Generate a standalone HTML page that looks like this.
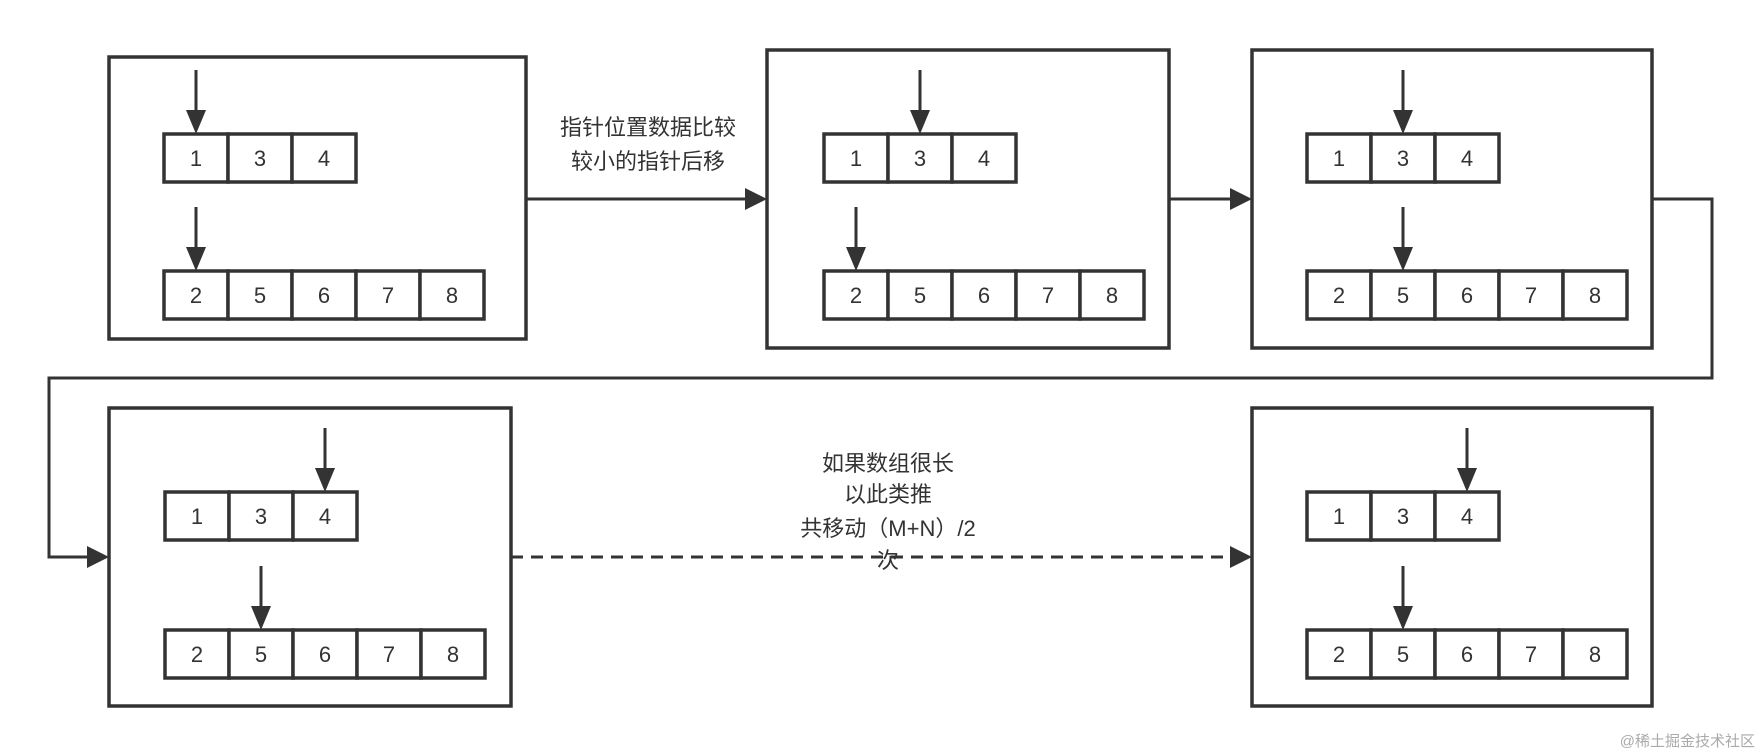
<!DOCTYPE html>
<html><head><meta charset="utf-8"><style>html,body{margin:0;padding:0;background:#fff;}svg{display:block}</style></head>
<body>
<svg width="1762" height="756" xmlns="http://www.w3.org/2000/svg" font-family="Liberation Sans, Noto Sans CJK SC, sans-serif">
<defs>
<marker id="a" markerWidth="8" markerHeight="8" refX="7" refY="4" orient="auto" markerUnits="strokeWidth">
<path d="M0,0 L8,4 L0,8 Z" fill="#333"/></marker>
<marker id="b" markerWidth="10" markerHeight="8" refX="9" refY="4" orient="auto" markerUnits="userSpaceOnUse">
</marker>
</defs>
<g fill="none" stroke="#333" stroke-width="3.5">
<rect x="109" y="57" width="417" height="282"/>
<rect x="767" y="50" width="402" height="298"/>
<rect x="1252" y="50" width="400" height="298"/>
<rect x="109" y="408" width="402" height="298"/>
<rect x="1252" y="408" width="400" height="298"/>
</g>
<g id="arrs"></g>
<g stroke="#333" stroke-width="3" fill="none">
<line x1="526" y1="199" x2="750" y2="199"/>
<line x1="1169" y1="199" x2="1235" y2="199"/>
<polyline points="1652,199 1712,199 1712,378 49,378 49,557 92,557"/>
<line x1="511" y1="557" x2="1235" y2="557" stroke-dasharray="12,8"/>
</g>
<g fill="#333">
<path d="M767,199 L745,188 L745,210 Z"/>
<path d="M1252,199 L1230,188 L1230,210 Z"/>
<path d="M109,557 L87,546 L87,568 Z"/>
<path d="M1252,557 L1230,546 L1230,568 Z"/>
</g>
<g font-size="22" fill="#333" text-anchor="middle">
<text x="648" y="135">指针位置数据比较</text>
<text x="648" y="169">较小的指针后移</text>
<text x="888" y="471">如果数组很长</text>
<text x="888" y="502">以此类推</text>
<text x="888" y="536">共移动（M+N）/2</text>
<text x="888" y="568">次</text>
</g>
<text x="1755" y="746" font-size="15" fill="#aaa" text-anchor="end">@稀土掘金技术社区</text>
<script>
</script>
</svg>
<script>
(function(){
var ns="http://www.w3.org/2000/svg",g=document.getElementById("arrs");
function el(t,a,txt){var e=document.createElementNS(ns,t);for(var k in a)e.setAttribute(k,a[k]);if(txt)e.textContent=txt;g.appendChild(e);}
function arr(x,y,vals){var w=64,h=48;for(var i=0;i<vals.length;i++){el("rect",{x:x+i*w,y:y,width:w,height:h,fill:"#fff",stroke:"#333","stroke-width":3.5});el("text",{x:x+i*w+w/2,y:y+h/2+8,"font-size":22,fill:"#333","text-anchor":"middle"},vals[i]);}}
function ptr(x,y1,y2){el("line",{x1:x,y1:y1,x2:x,y2:y2-20,stroke:"#333","stroke-width":3});el("path",{d:"M"+x+","+y2+" L"+(x-10)+","+(y2-24)+" L"+(x+10)+","+(y2-24)+" Z",fill:"#333"});}
var A=["1","3","4"],B=["2","5","6","7","8"];
function box(x,ty,by,tp,bp){arr(x,ty,A);arr(x,by,B);ptr(x+32+tp*64,ty-64,ty);ptr(x+32+bp*64,by-64,by);}
box(164,134,271,0,0);
box(824,134,271,1,0);
box(1307,134,271,1,1);
box(165,492,630,2,1);
box(1307,492,630,2,1);
})();
</script>
</body></html>
